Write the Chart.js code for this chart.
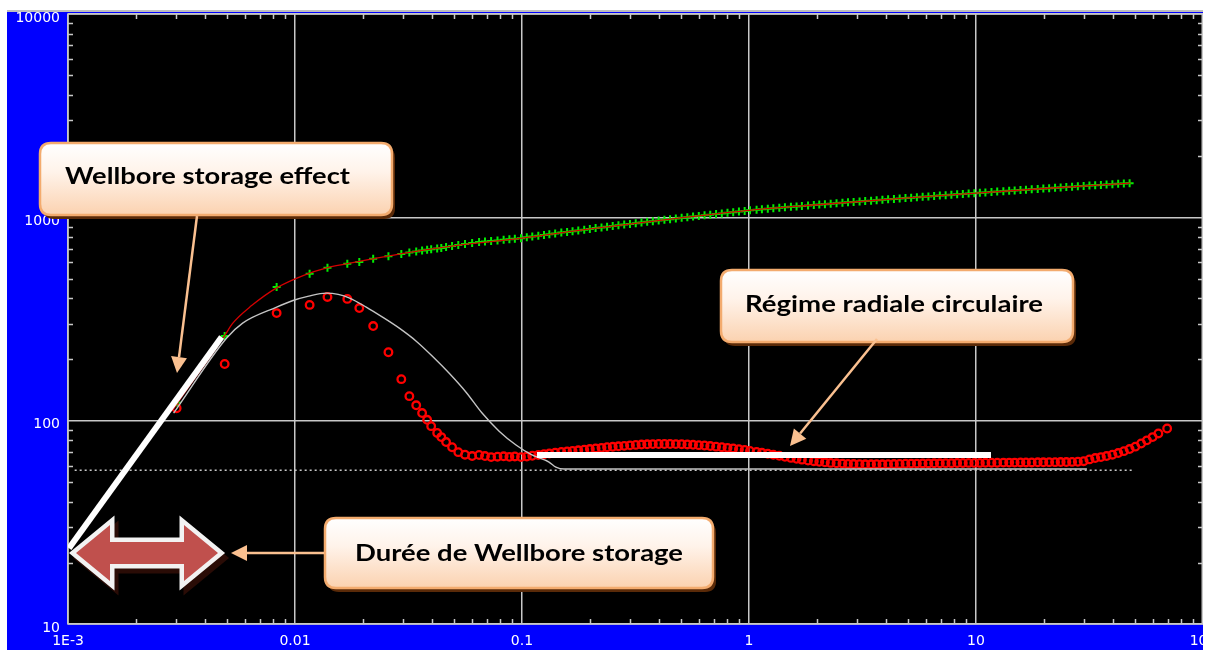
<!DOCTYPE html>
<html>
<head>
<meta charset="utf-8">
<script src="https://cdn.jsdelivr.net/npm/chart.js@4.4.1/dist/chart.umd.min.js"></script>
<style>
  html, body { margin: 0; padding: 0; background: #fff; overflow: hidden; }
  canvas { display: block; }
</style>
</head>
<body>
<canvas id="chart" width="1209" height="650"></canvas>
<script>
// measured test data (time in h), pressure change and its derivative
const time = [
  0.00301, 0.0049, 0.0083, 0.0116, 0.0139, 0.0170, 0.0192, 0.0221, 0.0258, 0.0294, 0.0319, 0.0342, 0.0363, 0.0382, 0.0398, 0.0423, 0.0441, 0.0463, 0.0492, 0.0524, 0.0561, 0.0603, 0.0647, 0.0687, 0.0731,
  0.078, 0.083, 0.088, 0.093, 0.099, 0.105, 0.111, 0.118, 0.125, 0.132, 0.140, 0.149, 0.158, 0.167, 0.177, 0.188, 0.199, 0.211, 0.224, 0.237, 0.251, 0.266, 0.282, 0.299, 0.317, 0.336, 0.356, 0.377, 0.400, 0.424, 0.449, 0.476, 0.505, 0.535, 0.567, 0.601, 0.637, 0.675, 0.716, 0.759, 0.804, 0.852, 0.903, 0.957,
  1.01, 1.08, 1.14, 1.21, 1.28, 1.36, 1.44, 1.53, 1.62, 1.71, 1.82, 1.93, 2.04, 2.16, 2.29, 2.43, 2.58, 2.73, 2.89, 3.07, 3.25, 3.45, 3.65, 3.87, 4.10, 4.35, 4.61, 4.89, 5.18, 5.49, 5.82, 6.17, 6.54, 6.93, 7.35, 7.79, 8.26, 8.75, 9.28, 9.83,
  10.4, 11.0, 11.7, 12.4, 13.2, 14.0, 14.8, 15.7, 16.6, 17.6, 18.7, 19.8, 21.0, 22.3, 23.6, 25.0, 26.5, 28.1, 29.8, 31.6, 33.5, 35.5, 37.6, 39.9, 42.3, 44.8, 47.5, 50.3, 53.4, 56.6, 60.0, 63.6, 69.5
];
const pressure = [
  123, 261, 454, 528, 565, 591, 603, 625, 643, 661, 671, 679, 687, 692, 696, 702, 707, 714, 722, 730, 740, 748, 757, 761, 765,
  770, 775, 780, 784, 790, 797, 804, 812, 819, 826, 833, 841, 848, 855, 862, 870, 877, 885, 892, 899, 906, 914, 921, 928, 935, 943, 950, 957, 965, 972, 979, 987, 994, 1001, 1009, 1016, 1023, 1031, 1038, 1045, 1053, 1060, 1067, 1075,
  1084, 1091, 1096, 1102, 1108, 1114, 1120, 1126, 1132, 1137, 1144, 1150, 1155, 1161, 1167, 1173, 1179, 1185, 1190, 1196, 1202, 1208, 1214, 1220, 1226, 1232, 1238, 1244, 1249, 1255, 1261, 1267, 1273, 1279, 1285, 1291, 1297, 1302, 1308, 1314,
  1320, 1326, 1332, 1338, 1344, 1350, 1355, 1361, 1367, 1373, 1379, 1385, 1391, 1397, 1402, 1408, 1414, 1420, 1426, 1432, 1438, 1444, 1450, 1456, 1461, 1467, 1473, null, null, null, null, null, null
];
const derivative = [
  115, 190, 338, 371, 406, 397, 358, 292, 217, 160, 132, 119, 109, 101, 94, 87, 83, 78.5, 74, 70, 68, 67, 67.8, 67, 66.2,
  66.5, 66.8, 66.4, 66.7, 66.2, 66.6, 67.2, 67.8, 68.4, 69.0, 69.6, 70.2, 70.6, 71.0, 71.5, 72.0, 72.5, 73.0, 73.5, 74.0, 74.4, 74.8, 75.2, 75.6, 76.0, 76.3, 76.5, 76.7, 76.8, 76.8, 76.8, 76.7, 76.6, 76.4, 76.1, 75.8, 75.5, 75.0, 74.5, 74.0, 73.5, 73.0, 72.4, 71.8,
  71.0, 70.2, 69.5, 68.8, 68.0, 67.2, 66.4, 65.6, 64.9, 64.3, 63.7, 63.2, 62.8, 62.4, 62.0, 61.7, 61.5, 61.3, 61.2, 61.1, 61.0, 61.0, 61.1, 61.0, 61.1, 61.2, 61.3, 61.4, 61.5, 61.5, 61.6, 61.6, 61.7, 61.7, 61.8, 61.8, 61.9, 61.9, 62.0, 62.0,
  62.0, 62.1, 62.1, 62.1, 62.2, 62.2, 62.2, 62.3, 62.3, 62.3, 62.4, 62.4, 62.5, 62.5, 62.6, 62.6, 62.7, 62.8, 63.2, 64.5, 65.5, 66.2, 67.0, 68.0, 69.3, 70.8, 72.5, 74.5, 77.2, 80.0, 83.0, 86.5, 91.5
];

// model curves
const modelTime = [0.0029, 0.00305, 0.0049, 0.0053, 0.00644, 0.0083, 0.0110, 0.0138, 0.0168, 0.0221, 0.030, 0.050, 0.10, 0.20, 0.50, 1.0, 2.0, 5.0, 10, 20, 48];
const modelPressure = [113, 123, 262, 300, 368, 450, 520, 564, 590, 625, 665, 724, 790, 877, 994, 1083, 1153, 1246, 1316, 1386, 1474];
const modelDerivTime = [0.00292, 0.0050, 0.00588, 0.0083, 0.0098, 0.0115, 0.0137, 0.0155, 0.0174, 0.0206, 0.0243, 0.0288, 0.0342, 0.0402, 0.0478, 0.0567, 0.0667, 0.0793, 0.0941, 0.1106, 0.1315, 0.141, 0.153, 0.3, 1, 5, 30.8];
const modelDeriv = [109, 255, 302, 362, 390, 410, 424, 418, 401, 362, 323, 285, 246, 208, 171, 138, 109, 88.8, 75.9, 67.8, 62.6, 59.1, 57.8, 57.8, 57.8, 57.8, 57.8];

// straight-line markers drawn on the plot
const unitSlopeTime = [0.00101, 0.00475];
const unitSlopeValue = [23.6, 258];
const radialTime = [0.1164, 11.64];
const radialValue = [67.8, 67.8];
const stabTime = [0.00107, 49.5];
const stabValue = [57, 57];

const xTicks = [0.001, 0.01, 0.1, 1, 10, 100];
const xTickLabels = ['1E-3', '0.01', '0.1', '1', '10', '100'];
const yTicks = [10, 100, 1000, 10000];
const yTickLabels = ['10', '100', '1000', '10000'];

Chart.defaults.font.family = 'DejaVu Sans';
Chart.defaults.font.size = 14;

function pts(xs, ys) {
  return xs.map((x, i) => ({ x: x, y: ys[i] }));
}

function roundRectPath(c, x, y, w, h, r) {
  c.beginPath();
  c.moveTo(x + r, y);
  c.lineTo(x + w - r, y);
  c.quadraticCurveTo(x + w, y, x + w, y + r);
  c.lineTo(x + w, y + h - r);
  c.quadraticCurveTo(x + w, y + h, x + w - r, y + h);
  c.lineTo(x + r, y + h);
  c.quadraticCurveTo(x, y + h, x, y + h - r);
  c.lineTo(x, y + r);
  c.quadraticCurveTo(x, y, x + r, y);
  c.closePath();
}

function drawCallout(c, bx, by, bw, bh, text, tx, ty, tw) {
  c.save();
  roundRectPath(c, bx + 3, by + 4, bw, bh, 11);
  c.fillStyle = '#5a2a08';
  c.fill();
  const g = c.createLinearGradient(0, by, 0, by + bh);
  g.addColorStop(0, '#ffffff');
  g.addColorStop(0.4, '#fff3ea');
  g.addColorStop(1, '#fbd2b0');
  roundRectPath(c, bx, by, bw, bh, 11);
  c.fillStyle = g;
  c.fill();
  c.lineWidth = 2.5;
  c.strokeStyle = '#f3ab6e';
  c.stroke();
  c.font = 'bold 23px Lato';
  const w = c.measureText(text).width;
  c.translate(tx, ty);
  c.scale(tw / w, 1);
  c.fillStyle = '#000000';
  c.fillText(text, 0, 0);
  c.restore();
}

function drawArrow(c, x1, y1, x2, y2) {
  const ang = Math.atan2(y2 - y1, x2 - x1);
  const len = 16, half = 8;
  const bx = x2 - len * Math.cos(ang), by = y2 - len * Math.sin(ang);
  c.save();
  c.strokeStyle = '#fac090';
  c.fillStyle = '#fac090';
  c.lineWidth = 2.5;
  c.beginPath();
  c.moveTo(x1, y1);
  c.lineTo(bx, by);
  c.stroke();
  c.beginPath();
  c.moveTo(x2, y2);
  c.lineTo(bx + half * Math.sin(ang), by - half * Math.cos(ang));
  c.lineTo(bx - half * Math.sin(ang), by + half * Math.cos(ang));
  c.closePath();
  c.fill();
  c.restore();
}

function doubleArrowPath(c, dx, dy) {
  const cy = 553 + dy;
  c.beginPath();
  c.moveTo(76 + dx, cy);
  c.lineTo(110 + dx, cy - 28);
  c.lineTo(110 + dx, cy - 11);
  c.lineTo(184 + dx, cy - 11);
  c.lineTo(184 + dx, cy - 28);
  c.lineTo(218 + dx, cy);
  c.lineTo(184 + dx, cy + 28);
  c.lineTo(184 + dx, cy + 11);
  c.lineTo(110 + dx, cy + 11);
  c.lineTo(110 + dx, cy + 28);
  c.closePath();
}

const framePlugin = {
  id: 'frame',
  beforeDraw(chart) {
    const c = chart.ctx, a = chart.chartArea;
    c.save();
    c.fillStyle = '#ffffff';
    c.fillRect(0, 0, chart.width, chart.height);
    c.fillStyle = '#0000ff';
    c.fillRect(7, 12, 1196, 638);
    c.fillStyle = '#000000';
    c.fillRect(a.left, a.top, a.right - a.left, a.bottom - a.top);
    c.restore();
  },
  beforeDatasetsDraw(chart) {
    const c = chart.ctx, a = chart.chartArea;
    const xs = chart.scales.x, ys = chart.scales.y;
    c.save();
    c.strokeStyle = '#c8c8c8';
    c.lineWidth = 1.5;
    c.beginPath();
    for (let d = 0.001; d < 99; d *= 10) {
      for (let m = 2; m <= 9; m++) {
        const px = Math.round(xs.getPixelForValue(d * m)) + 0.5;
        c.moveTo(px, a.bottom); c.lineTo(px, a.bottom - 5);
        c.moveTo(px, a.top); c.lineTo(px, a.top + 5);
      }
    }
    for (let d = 10; d < 9999; d *= 10) {
      for (let m = 2; m <= 9; m++) {
        const py = Math.round(ys.getPixelForValue(d * m)) + 0.5;
        c.moveTo(a.left, py); c.lineTo(a.left + 5, py);
        c.moveTo(a.right, py); c.lineTo(a.right - 5, py);
      }
    }
    c.stroke();
    c.strokeRect(a.left, a.top, a.right - a.left - 0.75, a.bottom - a.top);
    c.restore();
  },
  afterDraw(chart) {
    const c = chart.ctx, a = chart.chartArea;
    c.save();
    c.fillStyle = '#ffffff';
    c.fillRect(0, 0, chart.width, 10);
    c.fillRect(0, 0, 7, chart.height);
    c.fillRect(a.right, 0, chart.width - a.right, chart.height);
    c.fillStyle = '#bdbdbd';
    c.fillRect(7, 10, a.right - 7, 2);

    // callouts
    drawCallout(c, 40, 143, 352, 72, 'Wellbore storage effect', 65, 184, 285);
    drawCallout(c, 721, 270, 352, 72, 'Régime radiale circulaire', 745, 312, 298);
    drawCallout(c, 325, 518, 388, 70, 'Durée de Wellbore storage', 355, 561, 328);

    drawArrow(c, 197, 216, 177, 373);
    drawArrow(c, 877, 339, 790, 446);
    drawArrow(c, 324, 553, 231, 553);

    // double-headed arrow
    c.lineJoin = 'miter';
    doubleArrowPath(c, 4, 5);
    c.fillStyle = '#2a0c06';
    c.strokeStyle = '#2a0c06';
    c.lineWidth = 9;
    c.stroke();
    c.fill();
    doubleArrowPath(c, 0, 0);
    c.strokeStyle = '#f2f2f2';
    c.stroke();
    c.fillStyle = '#c0504d';
    c.fill();
    c.restore();
  }
};

new Chart(
  document.getElementById('chart'),
  {
    type: 'scatter',
    data: {
      datasets: [
        {
          label: 'Radial flow',
          data: pts(radialTime, radialValue),
          showLine: true,
          borderColor: '#ffffff',
          borderWidth: 6,
          pointRadius: 0
        },
        {
          label: 'Unit slope',
          data: pts(unitSlopeTime, unitSlopeValue),
          showLine: true,
          borderColor: '#ffffff',
          borderWidth: 6,
          pointRadius: 0
        },
        {
          label: 'Model pressure',
          data: pts(modelTime, modelPressure),
          showLine: true,
          borderColor: '#d40000',
          borderWidth: 1.3,
          pointRadius: 0,
          cubicInterpolationMode: 'monotone'
        },
        {
          label: 'Model derivative',
          data: pts(modelDerivTime, modelDeriv),
          showLine: true,
          borderColor: '#c4c4c4',
          borderWidth: 1.4,
          pointRadius: 0,
          cubicInterpolationMode: 'monotone'
        },
        {
          label: 'Pressure',
          data: pts(time, pressure),
          pointStyle: 'cross',
          pointRadius: 4,
          borderColor: '#00ee00',
          borderWidth: 2
        },
        {
          label: 'Derivative',
          data: pts(time, derivative),
          pointStyle: 'circle',
          pointRadius: 3.8,
          borderColor: '#ff0000',
          backgroundColor: 'rgba(0,0,0,0)',
          borderWidth: 2.3
        },
        {
          label: 'Stabilisation',
          data: pts(stabTime, stabValue),
          showLine: true,
          borderColor: '#c8c8c8',
          borderWidth: 1.5,
          borderDash: [2, 3],
          pointRadius: 0
        }
      ]
    },
    options: {
      responsive: false,
      animation: false,
      events: [],
      layout: { autoPadding: false, padding: { left: 7, top: 14, right: 6, bottom: 0 } },
      plugins: {
        legend: { display: false },
        tooltip: { enabled: false }
      },
      scales: {
        x: {
          type: 'logarithmic',
          min: 0.001,
          max: 100,
          afterBuildTicks: s => { s.ticks = xTicks.map(v => ({ value: v })); },
          afterFit: s => { s.height = 26; s.paddingLeft = 0; s.paddingRight = 0; },
          grid: { color: '#c8c8c8', lineWidth: 1.5, drawTicks: false },
          border: { display: false },
          ticks: {
            color: '#ffffff',
            font: { family: 'DejaVu Sans', size: 14 },
            padding: 9,
            autoSkip: false,
            maxRotation: 0,
            callback: (v, i) => xTickLabels[i]
          }
        },
        y: {
          type: 'logarithmic',
          min: 10,
          max: 10000,
          afterBuildTicks: s => { s.ticks = yTicks.map(v => ({ value: v })); },
          afterFit: s => { s.width = 61; s.paddingTop = 0; s.paddingBottom = 0; },
          grid: { color: '#c8c8c8', lineWidth: 1.5, drawTicks: false },
          border: { display: false },
          ticks: {
            color: '#ffffff',
            font: { family: 'DejaVu Sans', size: 14 },
            padding: 8,
            labelOffset: 4,
            autoSkip: false,
            callback: (v, i) => yTickLabels[i]
          }
        }
      }
    },
    plugins: [framePlugin]
  }
);
</script>
</body>
</html>
